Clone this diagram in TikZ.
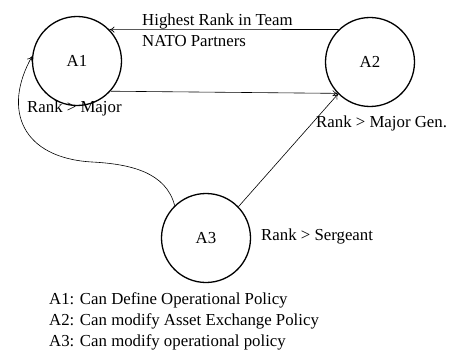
\documentclass[tikz,border=0pt]{standalone}
\usepackage{fontspec}
\setmainfont{Liberation Serif}
\usetikzlibrary{arrows.meta}
\begin{document}
\begin{tikzpicture}[x=1pt,y=-1pt,
  font=\fontsize{16.8}{21}\selectfont,
  state/.style={circle,draw,line width=1.3pt,minimum size=89pt,inner sep=0pt},
  lbl/.style={anchor=west,inner sep=0pt},
  link/.style={line width=0.6pt,-{To[length=5pt,width=6pt]}}]
  \useasboundingbox (0,0) rectangle (454,350);

  % agents
  \node[state] (A1) at (77,61) {A1};
  \node[state] (A2) at (370,62) {A2};
  \node[state] (A3) at (206,238) {A3};

  % relations between agents
  \draw[link] (A2.134) -- (A1.44);
  \draw[link] (A1.-42) -- (A2.-136);
  \draw[link] (A3.44) -- (A2.-135);
  \coordinate (bend) at (92,162);
  \draw[link] (A3.134) .. controls (166,172) and (130,164) .. (bend)
              .. controls (22,158) and (2,110) .. (A1.174);

  % conditions
  \node[lbl,align=left] (team) at (142,30) {Highest Rank in Team\\NATO Partners};
  \node[lbl] (major) at (27,108) {Rank > Major};
  \node[lbl] (gen) at (316,123) {Rank > Major Gen.};
  \node[lbl] (sgt) at (261,236) {Rank > Sergeant};

  % legend
  \node[lbl] (l1) at (49,300) {A1: Can Define Operational Policy};
  \node[lbl] (l2) at (49,321) {A2: Can modify Asset Exchange Policy};
  \node[lbl] (l3) at (49,342) {A3: Can modify operational policy};
\end{tikzpicture}
\end{document}
